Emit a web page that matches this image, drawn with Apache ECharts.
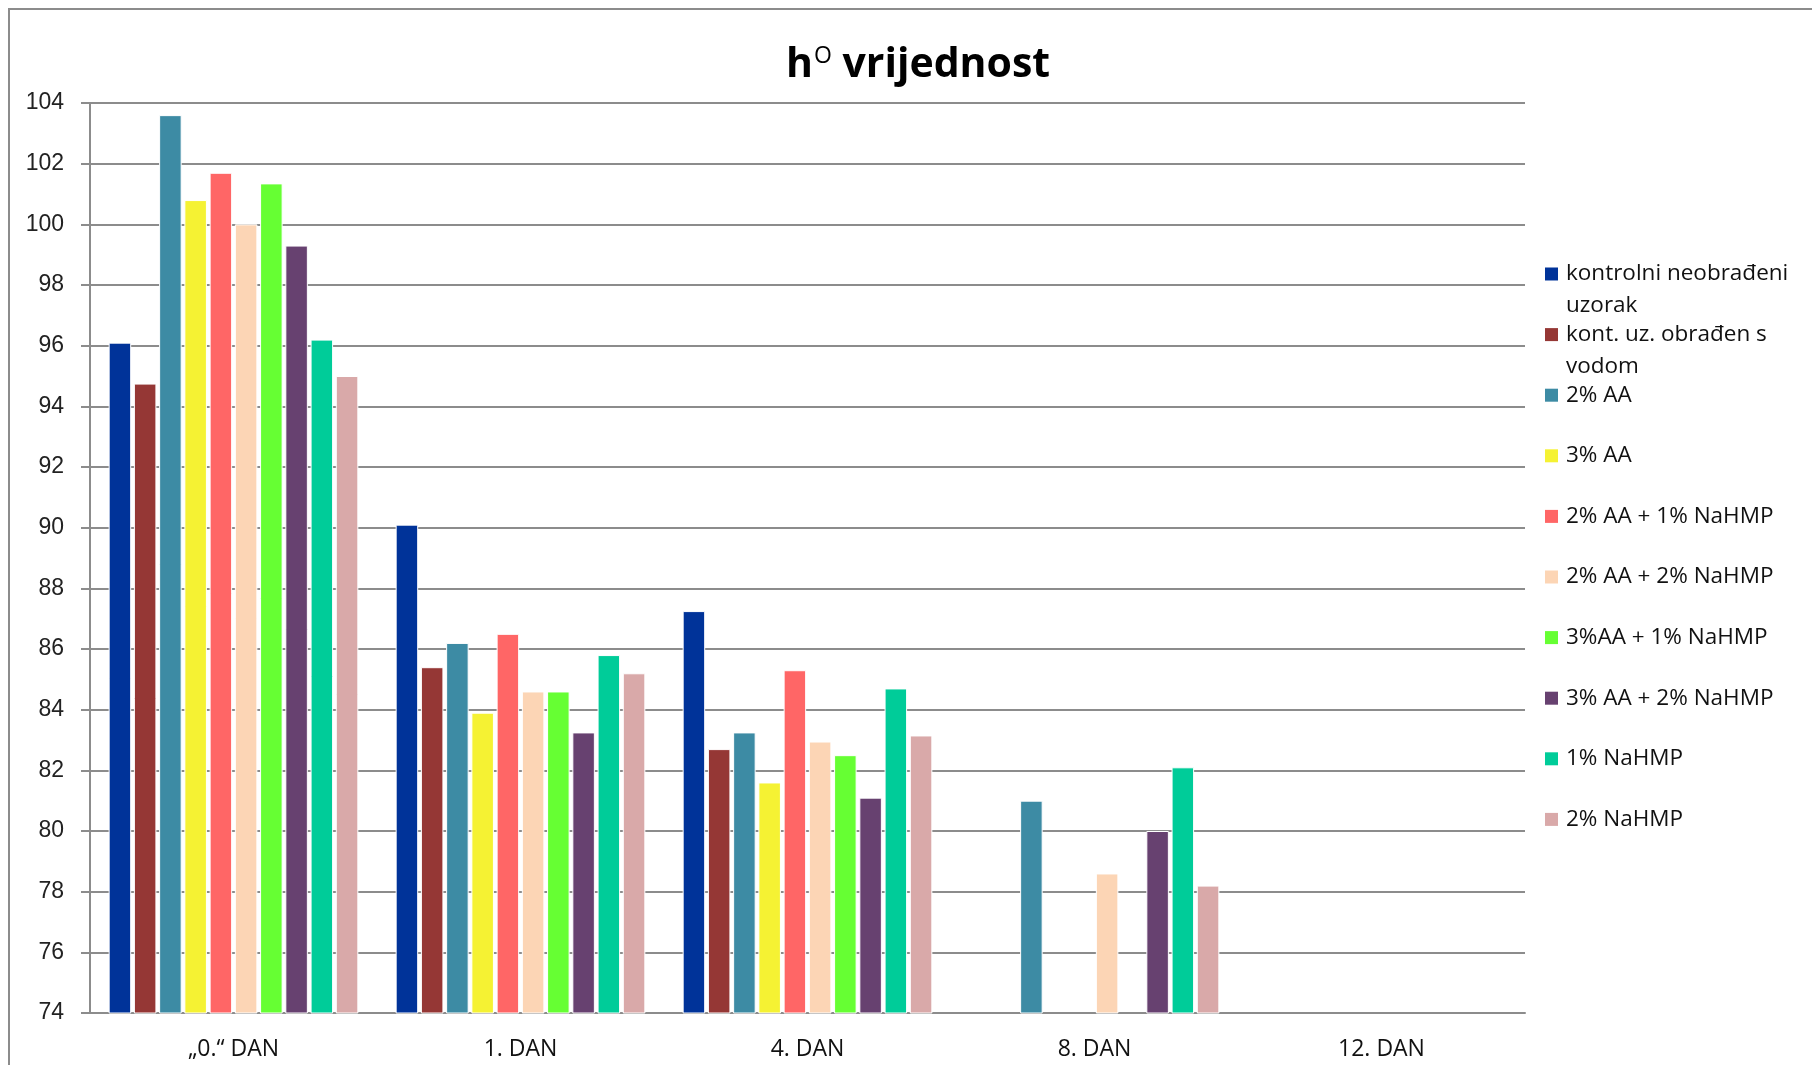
<!DOCTYPE html>
<html>
<head>
<meta charset="utf-8">
<script src="https://cdn.jsdelivr.net/npm/echarts@6/dist/echarts.min.js"></script>
<style>
  html, body { margin: 0; padding: 0; background: #fff; }
  #chart { width: 1812px; height: 1065px; }
</style>
</head>
<body>
<div id="chart"></div>
<script>
// kategorije (dani)
const categories = ['„0.“ DAN', '1. DAN', '4. DAN', '8. DAN', '12. DAN']

// nazivi uzoraka
const seriesNames = [
  'kontrolni neobrađeni\nuzorak',
  'kont. uz. obrađen s\nvodom',
  '2% AA',
  '3% AA',
  '2% AA + 1% NaHMP',
  '2% AA + 2% NaHMP',
  '3%AA + 1% NaHMP',
  '3% AA + 2% NaHMP',
  '1% NaHMP',
  '2% NaHMP'
]

// vrijednosti po uzorku (null = nema podatka)
const kontrolni = [96.1, 90.1, 87.25, null, null]
const kontVoda = [94.75, 85.4, 82.7, null, null]
const aa2 = [103.6, 86.2, 83.25, 81.0, null]
const aa3 = [100.8, 83.9, 81.6, null, null]
const aa2Na1 = [101.7, 86.5, 85.3, null, null]
const aa2Na2 = [100.0, 84.6, 82.95, 78.6, null]
const aa3Na1 = [101.35, 84.6, 82.5, null, null]
const aa3Na2 = [99.3, 83.25, 81.1, 80.0, null]
const na1 = [96.2, 85.8, 84.7, 82.1, null]
const na2 = [95.0, 85.2, 83.15, 78.2, null]

const seriesData = [kontrolni, kontVoda, aa2, aa3, aa2Na1, aa2Na2, aa3Na1, aa3Na2, na1, na2]
const colors = ['#003399', '#953735', '#3d8ba4', '#f5f233', '#ff6666', '#fcd5b5', '#66ff33', '#674170', '#00cc99', '#d9a9a9']

const yTicks = { min: 74, max: 104, interval: 2 }

const textFont = '"Open Sans", sans-serif'
const gridColor = '#8c8c8c'

const chart = echarts.init(document.getElementById('chart'))

// svaka stavka legende zasebno, jednaki razmak kao u Excelu
const legendLine = 32
const legends = seriesNames.map((name, i) => {
  const twoLine = name.indexOf('\n') >= 0
  const center = 274 + i * 60.6
  return {
    data: [name],
    orient: 'vertical',
    left: 1545,
    top: twoLine ? center - legendLine * 1.5 : center - legendLine / 2,
    padding: 0,
    itemWidth: 13,
    itemHeight: 13,
    icon: 'rect',
    selectedMode: false,
    itemStyle: { borderWidth: 0 },
    // prazan prvi red => prvi red teksta u ravnini s oznakom
    formatter: n => (n.indexOf('\n') >= 0 ? '\n' + n : n),
    textStyle: {
      fontFamily: textFont,
      fontSize: 22.5,
      color: '#111',
      lineHeight: legendLine,
      padding: [0, 0, 0, 3]
    }
  }
})

chart.setOption({
  animation: false,
  color: colors,
  title: {
    left: 786,
    top: 41,
    padding: 0,
    text: '{h|h}{o|O}{b| vrijednost}',
    textStyle: {
      rich: {
        h: { fontFamily: textFont, fontWeight: 'bold', fontSize: 41, color: '#000', lineHeight: 48 },
        o: { fontFamily: textFont, fontWeight: 'normal', fontSize: 23, color: '#000', lineHeight: 48, padding: [0, 0, 17, 1] },
        b: { fontFamily: textFont, fontWeight: 'bold', fontSize: 41, color: '#000', lineHeight: 48 }
      }
    }
  },
  graphic: [{
    type: 'rect',
    shape: { x: 9, y: 9, width: 2000, height: 2000 },
    style: { fill: 'none', stroke: '#8c8c8c', lineWidth: 2 },
    silent: true
  }],
  legend: legends,
  grid: {
    left: 90,
    right: 287,
    top: 103,
    bottom: 52
  },
  xAxis: {
    type: 'category',
    data: categories,
    axisLine: { lineStyle: { color: gridColor, width: 2 } },
    axisTick: { show: false },
    axisLabel: {
      fontFamily: textFont,
      fontSize: 23,
      color: '#111',
      margin: 25
    }
  },
  yAxis: {
    type: 'value',
    min: yTicks.min,
    max: yTicks.max,
    interval: yTicks.interval,
    axisLine: { show: true, lineStyle: { color: gridColor, width: 2 } },
    axisTick: { show: true, length: 9, lineStyle: { color: gridColor, width: 2 } },
    splitLine: { lineStyle: { color: gridColor, width: 2 } },
    axisLabel: {
      fontFamily: '"Liberation Sans", sans-serif',
      fontSize: 23,
      color: '#222',
      margin: 26
    }
  },
  series: seriesData.map((data, i) => ({
    name: seriesNames[i],
    type: 'bar',
    data: data,
    barGap: '12%',
    barCategoryGap: '13%',
    itemStyle: {
      color: colors[i],
      borderColor: '#fff',
      borderWidth: 1
    }
  }))
})
</script>
</body>
</html>
